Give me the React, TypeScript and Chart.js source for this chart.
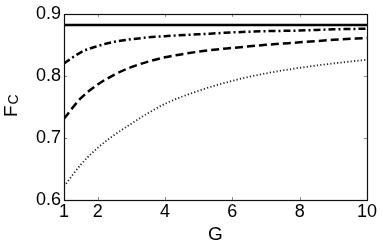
import React, { useEffect, useRef } from "react";
import { Chart, registerables } from "chart.js";

Chart.register(...registerables);

const gValues = [1, 1.5, 2, 2.5, 3, 3.5, 4, 5, 6, 7, 8, 9, 10];
const dashDotValues = [0.820, 0.838, 0.848, 0.855, 0.859, 0.862, 0.864, 0.867, 0.870, 0.872, 0.873, 0.875, 0.876];
const dashedValues = [0.731, 0.764, 0.786, 0.802, 0.814, 0.823, 0.830, 0.839, 0.845, 0.850, 0.854, 0.858, 0.861];
const dottedValues = [0.622, 0.657, 0.684, 0.705, 0.723, 0.740, 0.755, 0.776, 0.792, 0.804, 0.813, 0.820, 0.826];
const solidG = [1, 10];
const solidValues = [0.882, 0.882];
const xTicks = [1, 2, 4, 6, 8, 10];
const yTicks = [0.6, 0.7, 0.8, 0.9];
const xLabel = "G";
const yLabelMain = "F";
const yLabelSub = "C";

const FONT = "'Liberation Sans', Arial, Helvetica, sans-serif";

const pts = (xs: number[], ys: number[]) => xs.map((x, i) => ({ x, y: ys[i] }));

const framePlugin = {
  id: "frame",
  afterDraw(chart: any) {
    const { ctx, chartArea } = chart;
    const { left, right, top, bottom } = chartArea;
    const xs = chart.scales.x;
    const ys = chart.scales.y;
    ctx.save();
    // inward tick marks
    ctx.strokeStyle = "#888";
    ctx.lineWidth = 1;
    ctx.beginPath();
    xTicks.forEach((t) => {
      if (t === xTicks[0] || t === xTicks[xTicks.length - 1]) return;
      const px = Math.round(xs.getPixelForValue(t)) + 0.5;
      ctx.moveTo(px, bottom);
      ctx.lineTo(px, bottom - 3);
      ctx.moveTo(px, top);
      ctx.lineTo(px, top + 3);
    });
    yTicks.forEach((t) => {
      if (t === yTicks[0] || t === yTicks[yTicks.length - 1]) return;
      const py = Math.round(ys.getPixelForValue(t)) + 0.5;
      ctx.moveTo(left, py);
      ctx.lineTo(left + 3, py);
      ctx.moveTo(right, py);
      ctx.lineTo(right - 3, py);
    });
    ctx.stroke();
    // box
    ctx.strokeStyle = "#111";
    ctx.lineWidth = 1.2;
    ctx.strokeRect(Math.round(left) + 0.5, Math.round(top) + 0.5, Math.round(right - left), Math.round(bottom - top));
    // x label
    ctx.fillStyle = "#000";
    ctx.font = `19px ${FONT}`;
    ctx.textAlign = "center";
    ctx.textBaseline = "alphabetic";
    ctx.fillText(xLabel, (left + right) / 2, 240);
    // y label rotated with subscript
    ctx.translate(17, 117);
    ctx.rotate(-Math.PI / 2);
    ctx.textAlign = "left";
    ctx.font = `19px ${FONT}`;
    ctx.fillText(yLabelMain, 0, 0);
    const w = ctx.measureText(yLabelMain).width;
    ctx.font = `14px ${FONT}`;
    ctx.fillText(yLabelSub, w + 1, 1);
    ctx.restore();
  },
};

export default function App() {
  const ref = useRef<HTMLCanvasElement | null>(null);
  useEffect(() => {
    if (!ref.current) return;
    const chart = new Chart(ref.current, {
      type: "line",
      data: {
        datasets: [
          {
            data: pts(solidG, solidValues),
            borderColor: "#000",
            borderWidth: 2.5,
            pointRadius: 0,
            tension: 0,
          },
          {
            data: pts(gValues, dashDotValues),
            borderColor: "#000",
            borderWidth: 2.5,
            borderDash: [7, 3, 2, 3],
            pointRadius: 0,
            cubicInterpolationMode: "monotone",
          },
          {
            data: pts(gValues, dashedValues),
            borderColor: "#000",
            borderWidth: 2.5,
            borderDash: [8, 4],
            pointRadius: 0,
            cubicInterpolationMode: "monotone",
          },
          {
            data: pts(gValues, dottedValues),
            borderColor: "#222",
            borderWidth: 1.8,
            borderDash: [1.2, 2.2],
            pointRadius: 0,
            cubicInterpolationMode: "monotone",
          },
        ],
      },
      options: {
        animation: false,
        responsive: true,
        maintainAspectRatio: false,
        layout: { padding: { top: 10, right: 15, left: 0, bottom: 0 } },
        plugins: { legend: { display: false }, tooltip: { enabled: false } },
        scales: {
          x: {
            type: "linear",
            min: 1,
            max: 10,
            border: { display: false },
            grid: { display: false, drawTicks: false },
            afterBuildTicks: (s: any) => {
              s.ticks = xTicks.map((v) => ({ value: v }));
            },
            afterFit: (s: any) => {
              s.height = 44;
            },
            ticks: {
              padding: 1,
              color: "#000",
              font: { family: FONT, size: 18 },
              maxRotation: 0,
              autoSkip: false,
              callback: (v: any) => String(v),
            },
          },
          y: {
            type: "linear",
            min: 0.6,
            max: 0.9,
            border: { display: false },
            grid: { display: false, drawTicks: false },
            afterBuildTicks: (s: any) => {
              s.ticks = yTicks.map((v) => ({ value: v }));
            },
            afterFit: (s: any) => {
              s.width = 64;
            },
            ticks: {
              padding: 3,
              color: "#000",
              font: { family: FONT, size: 18 },
              autoSkip: false,
              callback: (v: any) => Number(v).toFixed(1),
            },
          },
        },
      },
      plugins: [framePlugin],
    });
    return () => chart.destroy();
  }, []);
  return (
    <div style={{ position: "fixed", left: 0, top: 0, width: 382, height: 244, background: "#fff" }}>
      <canvas ref={ref} />
    </div>
  );
}
